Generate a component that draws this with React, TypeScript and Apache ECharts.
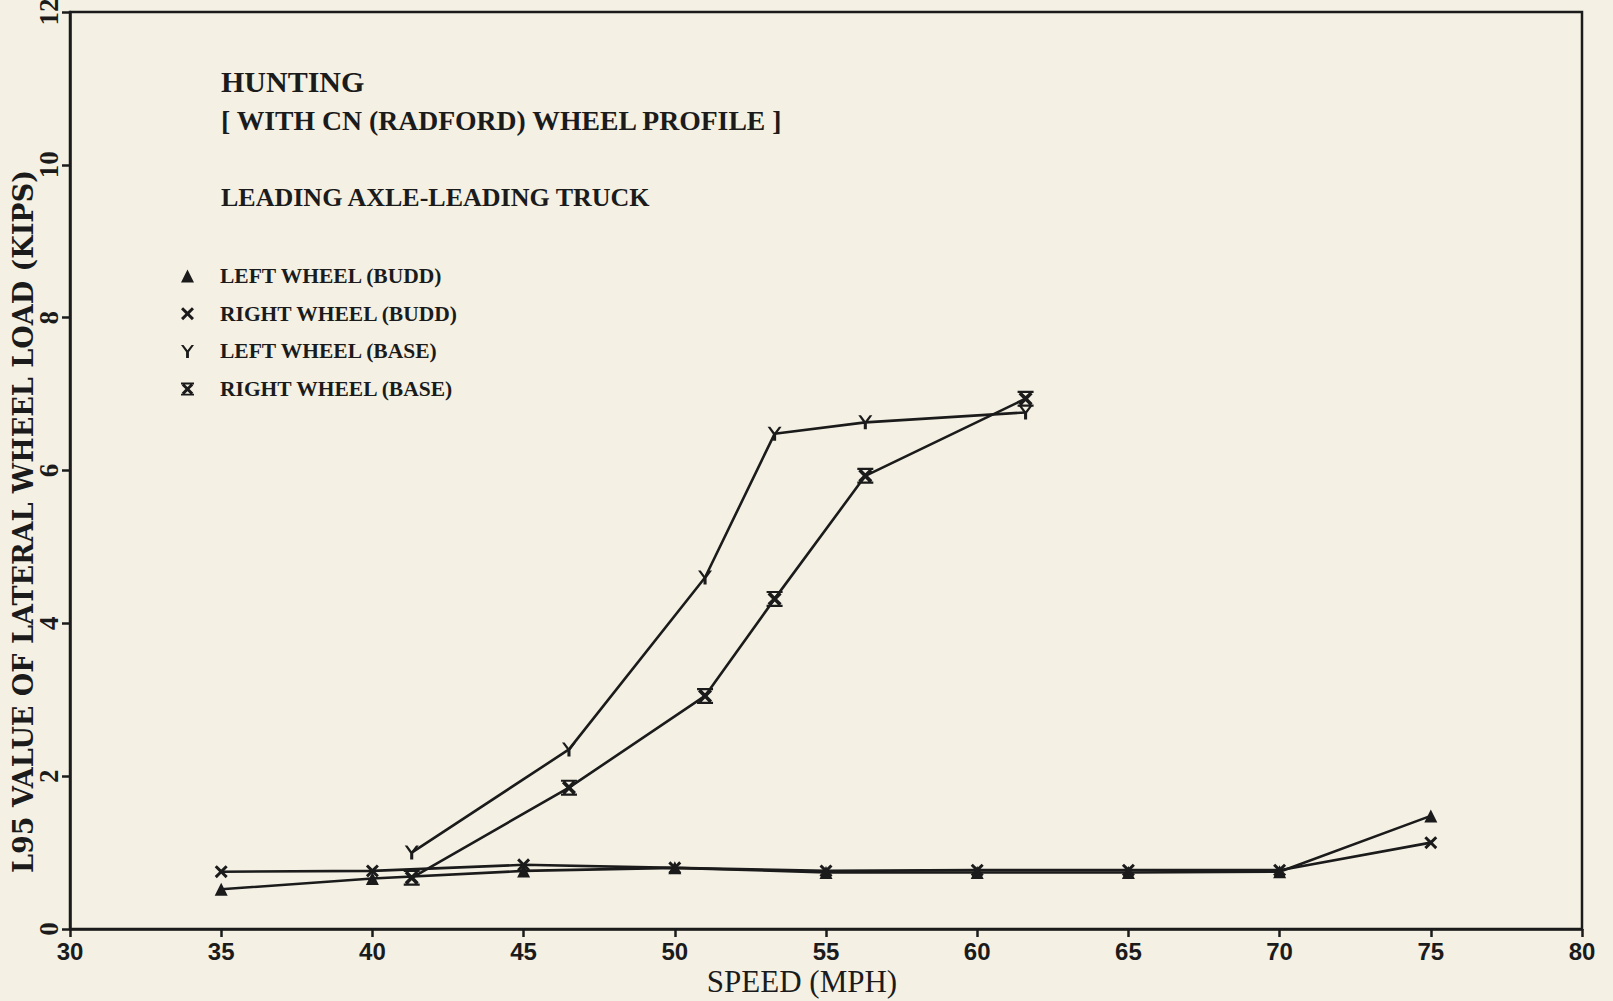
import React, { useEffect, useRef } from "react";
import * as echarts from "echarts";

// Speeds (mph) and L95 lateral wheel loads (kips)
const speedBudd = [35, 40, 45, 50, 55, 60, 65, 70, 75];
const leftBudd = [0.52, 0.66, 0.76, 0.8, 0.74, 0.74, 0.74, 0.75, 1.48];
const rightBudd = [0.75, 0.76, 0.84, 0.8, 0.76, 0.77, 0.77, 0.77, 1.13];

const speedBase = [41.3, 46.5, 51.0, 53.3, 56.3, 61.6];
const leftBase = [1.0, 2.35, 4.6, 6.48, 6.63, 6.76];
const rightBase = [0.67, 1.85, 3.05, 4.32, 5.93, 6.94];

const seriesNames = [
  "LEFT WHEEL (BUDD)",
  "RIGHT WHEEL (BUDD)",
  "LEFT WHEEL (BASE)",
  "RIGHT WHEEL (BASE)",
];

const titleLines = [
  "HUNTING",
  "[ WITH CN (RADFORD) WHEEL PROFILE ]",
  "LEADING AXLE-LEADING TRUCK",
];

const xAxisTitle = "SPEED (MPH)";
const yAxisTitle = "L95 VALUE OF LATERAL WHEEL LOAD (KIPS)";

const INK = "#1b1b1b";
const PAPER = "#f4f1e4";
const SERIF = "'Liberation Serif', 'DejaVu Serif', serif";
const WIDE_SERIF = "'DejaVu Serif', 'Liberation Serif', serif";
const SANS = "'Liberation Sans', Arial, sans-serif";

// Marker shapes drawn as filled outlines
const SYM_X =
  "path://M0,1.6L1.6,0L5,3.4L8.4,0L10,1.6L6.6,5L10,8.4L8.4,10L5,6.6L1.6,10L0,8.4L3.4,5Z";
const SYM_Y = "path://M0,0L1.9,0L5,4.1L8.1,0L10,0L6.1,5.4L6.1,10L3.9,10L3.9,5.4Z";
const SYM_XBAR =
  "path://M0.6,2.2L2.2,0.6L5,3.4L7.8,0.6L9.4,2.2L6.6,5L9.4,7.8L7.8,9.4L5,6.6L2.2,9.4L0.6,7.8L3.4,5Z" +
  "M0,0L10,0L10,1.4L0,1.4Z M0,8.6L10,8.6L10,10L0,10Z";

const pairs = (xs: number[], ys: number[]) => xs.map((x, i) => [x, ys[i]]);

export default function App() {
  const ref = useRef<HTMLDivElement>(null);

  useEffect(() => {
    document.body.style.margin = "0";
    if (!ref.current) return;
    const chart = echarts.init(ref.current, null, { renderer: "svg" });

    const lineStyle = { color: INK, width: 2.6 };
    const itemStyle = { color: INK, borderColor: INK, borderWidth: 0 };

    chart.setOption({
      animation: false,
      backgroundColor: PAPER,
      grid: {
        left: 70,
        right: 31,
        top: 12,
        bottom: 72,
        containLabel: false,
        outerBoundsMode: "none",
        show: true,
        borderColor: INK,
        borderWidth: 2.5,
        backgroundColor: "transparent",
      },
      xAxis: {
        type: "value",
        min: 30,
        max: 80,
        interval: 5,
        name: xAxisTitle,
        nameLocation: "middle",
        nameGap: 37,
        nameMoveOverlap: false,
        nameTextStyle: {
          fontFamily: SERIF,
          fontSize: 31,
          color: INK,
          padding: [0, 48, 0, 0],
        },
        axisLine: { show: true, lineStyle: { color: INK, width: 2.5 } },
        axisTick: { show: true, inside: false, length: 8, lineStyle: { color: INK, width: 2.5 } },
        axisLabel: {
          fontFamily: SANS,
          fontSize: 24,
          fontWeight: "bold",
          color: INK,
          margin: 10,
        },
        splitLine: { show: false },
      },
      yAxis: {
        type: "value",
        min: 0,
        max: 12,
        interval: 2,
        name: yAxisTitle,
        nameLocation: "middle",
        nameRotate: 90,
        nameGap: 33,
        nameMoveOverlap: false,
        nameTextStyle: {
          fontFamily: WIDE_SERIF,
          fontSize: 27,
          fontWeight: "bold",
          color: INK,
          padding: [0, 102, 0, 0],
        },
        axisLine: { show: true, lineStyle: { color: INK, width: 2.5 } },
        axisTick: { show: true, inside: false, length: 8, lineStyle: { color: INK, width: 2.5 } },
        axisLabel: {
          rotate: 90,
          fontFamily: SERIF,
          fontSize: 27,
          fontWeight: "bold",
          color: INK,
          margin: 8,
        },
        splitLine: { show: false },
      },
      legend: {
        orient: "vertical",
        left: 176,
        top: 260,
        itemWidth: 13,
        itemHeight: 13,
        itemGap: 15.7,
        textStyle: {
          fontFamily: SERIF,
          fontSize: 21.5,
          fontWeight: "bold",
          color: INK,
          lineHeight: 21,
          padding: [0, 0, 0, 21],
        },
        data: [
          { name: seriesNames[0], icon: "triangle" },
          { name: seriesNames[1], icon: SYM_X },
          { name: seriesNames[2], icon: SYM_Y },
          { name: seriesNames[3], icon: SYM_XBAR },
        ],
      },
      graphic: [
        {
          type: "text",
          left: 221,
          top: 66,
          style: { text: titleLines[0], font: `bold 30px ${SERIF}`, fill: INK },
        },
        {
          type: "text",
          left: 221,
          top: 106,
          style: { text: titleLines[1], font: `bold 27.7px ${SERIF}`, fill: INK },
        },
        {
          type: "text",
          left: 221,
          top: 184,
          style: { text: titleLines[2], font: `bold 26px ${SERIF}`, fill: INK },
        },
      ],
      series: [
        {
          name: seriesNames[0],
          type: "line",
          data: pairs(speedBudd, leftBudd),
          symbol: "triangle",
          symbolSize: 13,
          lineStyle,
          itemStyle,
          z: 3,
        },
        {
          name: seriesNames[1],
          type: "line",
          data: pairs(speedBudd, rightBudd),
          symbol: SYM_X,
          symbolSize: 13,
          lineStyle,
          itemStyle,
          z: 3,
        },
        {
          name: seriesNames[2],
          type: "line",
          data: pairs(speedBase, leftBase),
          symbol: SYM_Y,
          symbolSize: 14,
          lineStyle,
          itemStyle,
          z: 3,
        },
        {
          name: seriesNames[3],
          type: "line",
          data: pairs(speedBase, rightBase),
          symbol: SYM_XBAR,
          symbolSize: 16,
          lineStyle,
          itemStyle,
          z: 3,
        },
      ],
    });

    return () => chart.dispose();
  }, []);

  return (
    <div
      ref={ref}
      style={{ position: "absolute", left: 0, top: 0, width: 1613, height: 1001 }}
    />
  );
}
